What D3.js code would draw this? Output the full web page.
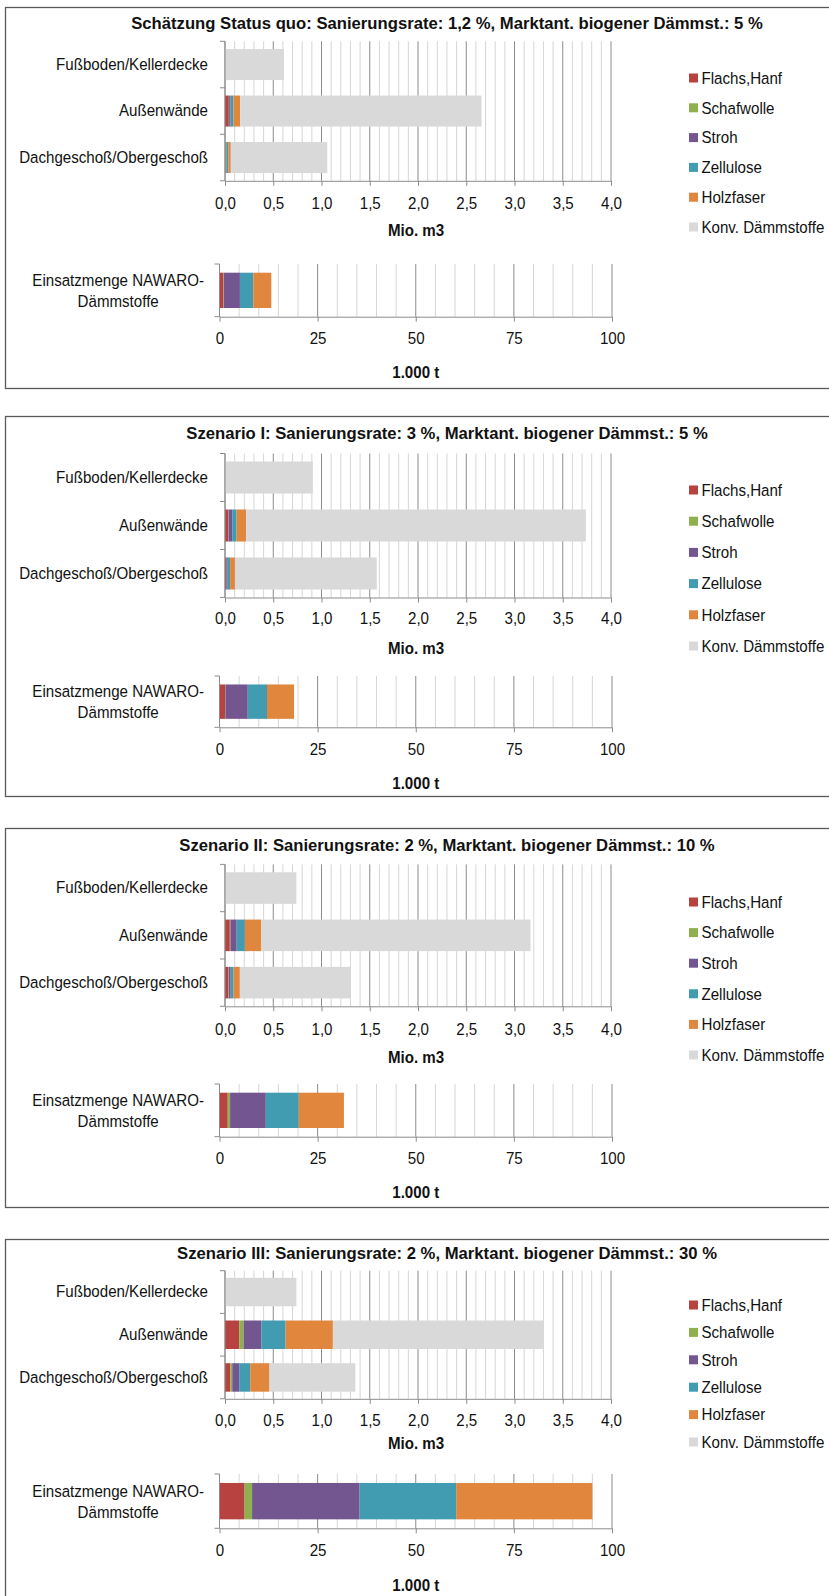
<!DOCTYPE html>
<html>
<head>
<meta charset="utf-8">
<script src="https://cdn.jsdelivr.net/npm/d3@7"></script>
<style>
  html, body { margin: 0; padding: 0; background: #fff; }
  svg { display: block; }
</style>
</head>
<body>
<svg id="chart" width="829" height="1596"></svg>
<script>
// ---------------- DATA ----------------
const titles = [
  "Schätzung Status quo: Sanierungsrate: 1,2 %, Marktant. biogener Dämmst.: 5 %",
  "Szenario I: Sanierungsrate: 3 %, Marktant. biogener Dämmst.: 5 %",
  "Szenario II: Sanierungsrate: 2 %, Marktant. biogener Dämmst.: 10 %",
  "Szenario III: Sanierungsrate: 2 %, Marktant. biogener Dämmst.: 30 %"
];
const categories = ["Fußboden/Kellerdecke", "Außenwände", "Dachgeschoß/Obergeschoß"];
const materials = ["Flachs,Hanf", "Schafwolle", "Stroh", "Zellulose", "Holzfaser", "Konv. Dämmstoffe"];
const colors = ["#b8423f", "#8fb04f", "#735590", "#419bb1", "#e0873d", "#d9d9d9"];

// Mio. m3, one row per scenario, values per category [Fußboden, Außenwände, Dachgeschoß]
const flachsHanf = [[0, 0.040, 0.005], [0, 0.034, 0.010], [0, 0.050, 0.035], [0, 0.148, 0.055]];
const schafwolle = [[0, 0.003, 0.010], [0, 0.003, 0.003], [0, 0.006, 0.004], [0, 0.045, 0.020]];
const stroh      = [[0, 0.015, 0.005], [0, 0.038, 0.015], [0, 0.065, 0.020], [0, 0.183, 0.072]];
const zellulose  = [[0, 0.030, 0.015], [0, 0.045, 0.025], [0, 0.085, 0.030], [0, 0.252, 0.114]];
const holzfaser  = [[0, 0.070, 0.025], [0, 0.100, 0.050], [0, 0.170, 0.065], [0, 0.490, 0.200]];
const konventionell = [[0.61, 2.50, 1.00], [0.91, 3.52, 1.47], [0.74, 2.79, 1.146], [0.74, 2.18, 0.89]];

// Einsatzmenge NAWARO-Dämmstoffe, 1.000 t, per scenario
const nawaroLabel = ["Einsatzmenge NAWARO-", "Dämmstoffe"];
const nawaroFlachs = [1.0, 1.4, 2.1, 6.4];
const nawaroSchaf  = [0.1, 0.1, 0.6, 1.9];
const nawaroStroh  = [4.1, 5.7, 9.1, 27.4];
const nawaroZell   = [3.4, 4.9, 8.4, 24.6];
const nawaroHolz   = [4.6, 6.9, 11.5, 34.7];

const ticksM3 = [0, 0.5, 1, 1.5, 2, 2.5, 3, 3.5, 4];
const ticksT = [0, 25, 50, 75, 100];
const unitM3 = "Mio. m3";
const unitT = "1.000 t";

// ---------------- LAYOUT ----------------
const FONT = '"Liberation Sans", Arial, sans-serif';
const FS = 16.3;      // regular text size
const TFS = 17;       // title size
const K = 0.927;      // horizontal condensing of the chart's narrow font
const panels = [
  {top: 7,    bottom: 388,  titleY: 23,   plotTop: 41.3,   plotBottom: 180.8,  tickY: 203,  unitY: 230,  lowTop: 264,  lowBottom: 316.7,  lowTickY: 338,  lowUnitY: 372,  legTop: 78,   legBottom: 227},
  {top: 416,  bottom: 796,  titleY: 433,  plotTop: 453.5,  plotBottom: 597.5,  tickY: 618,  unitY: 648,  lowTop: 676,  lowBottom: 727.3,  lowTickY: 749,  lowUnitY: 783,  legTop: 490,  legBottom: 646},
  {top: 828,  bottom: 1207, titleY: 845,  plotTop: 864.4,  plotBottom: 1006.3, tickY: 1029, unitY: 1057, lowTop: 1084, lowBottom: 1136.7, lowTickY: 1158, lowUnitY: 1192, legTop: 902,  legBottom: 1055},
  {top: 1239, bottom: 1620, titleY: 1253, plotTop: 1270.7, plotBottom: 1398.8, tickY: 1420, unitY: 1443, lowTop: 1474, lowBottom: 1528.3, lowTickY: 1550, lowUnitY: 1585, legTop: 1305, legBottom: 1442}
];

const svg = d3.select("#chart");
const x = d3.scaleLinear().domain([0, 4]).range([225, 611]);
const xl = d3.scaleLinear().domain([0, 100]).range([219.5, 612]);
const color = d3.scaleOrdinal().domain(materials).range(colors);
const fmtM3 = d => d3.format(".1f")(d).replace(".", ",");

const matArrays = [flachsHanf, schafwolle, stroh, zellulose, holzfaser, konventionell];
const nawaroArrays = [nawaroFlachs, nawaroSchaf, nawaroStroh, nawaroZell, nawaroHolz];

function addText(parent, tx, ty, str, opt = {}) {
  return parent.append("text")
    .attr("transform", `translate(${tx},${ty}) scale(${opt.k || K},1)`)
    .attr("dy", "0.35em")
    .attr("text-anchor", opt.anchor || "start")
    .attr("font-family", FONT)
    .attr("font-weight", opt.bold ? "bold" : "normal")
    .attr("font-size", opt.size || FS)
    .attr("fill", "#111")
    .text(str);
}

// title condensing calibrated on the first title's width in the reference
const probe = svg.append("text").attr("font-family", FONT).attr("font-weight", "bold")
  .attr("font-size", TFS).text(titles[0]);
const KT = Math.min(1, 632 / probe.node().getComputedTextLength());
probe.remove();

panels.forEach((p, si) => {
  const g = svg.append("g");
  g.append("rect").attr("x", 5.5).attr("y", p.top + 0.5)
    .attr("width", 840).attr("height", p.bottom - p.top)
    .attr("fill", "none").attr("stroke", "#5a5a5a").attr("stroke-width", 1.3);
  addText(g, 447, p.titleY, titles[si], {anchor: "middle", bold: true, size: TFS, k: KT});

  // ---- top chart ----
  const y = d3.scaleBand().domain(categories).range([p.plotTop, p.plotBottom])
    .paddingInner(0.333).paddingOuter(0.1667);
  const grid = d3.range(0, 41).map(i => i / 10);
  g.append("g").selectAll("line").data(grid).join("line")
    .attr("x1", d => x(d)).attr("x2", d => x(d))
    .attr("y1", p.plotTop).attr("y2", p.plotBottom)
    .attr("stroke", (d, i) => i % 5 === 0 ? "#8c8c8c" : "#d6d6d6")
    .attr("stroke-width", 1);
  const rows = categories.map((c, ci) => {
    const r = {cat: c};
    materials.forEach((m, mi) => r[m] = matArrays[mi][si][ci]);
    return r;
  });
  const stacked = d3.stack().keys(materials)(rows);
  g.append("g").selectAll("g").data(stacked).join("g")
    .attr("fill", d => color(d.key))
    .selectAll("rect").data(d => d).join("rect")
    .attr("x", d => x(d[0])).attr("width", d => Math.max(0, x(d[1]) - x(d[0])))
    .attr("y", d => y(d.data.cat)).attr("height", y.bandwidth());
  g.append("line").attr("x1", x(0)).attr("x2", x(0)).attr("y1", p.plotTop).attr("y2", p.plotBottom)
    .attr("stroke", "#8c8c8c");
  g.append("g").selectAll("line").data(d3.range(0, 4)).join("line")
    .attr("x1", x(0) - 5).attr("x2", x(0))
    .attr("y1", i => p.plotTop + i * y.step()).attr("y2", i => p.plotTop + i * y.step())
    .attr("stroke", "#8c8c8c");
  const ya = g.append("g").attr("transform", `translate(${x(0)},0)`)
    .call(d3.axisLeft(y).tickSize(0).tickPadding(17));
  ya.select(".domain").remove();
  ya.selectAll("text").attr("x", -17 / K).attr("transform", `scale(${K},1)`)
    .attr("font-family", FONT).attr("font-size", FS).attr("fill", "#111");
  const xa = g.append("g").attr("transform", `translate(0,${p.plotBottom})`)
    .call(d3.axisBottom(x).tickValues(ticksM3).tickFormat(fmtM3).tickSize(5).tickSizeOuter(0));
  xa.select(".domain").attr("stroke", "#8c8c8c");
  xa.selectAll("line").attr("stroke", "#8c8c8c");
  xa.selectAll("text").attr("y", p.tickY - p.plotBottom).attr("dy", "0.35em")
    .attr("transform", `scale(${K},1)`)
    .attr("font-family", FONT).attr("font-size", FS).attr("fill", "#111");
  addText(g, (x(0) + x(4)) / 2 - 2, p.unitY, unitM3, {anchor: "middle", bold: true});

  // legend
  const ls = (p.legBottom - p.legTop) / (materials.length - 1);
  const leg = g.append("g").selectAll("g").data(materials).join("g")
    .attr("transform", (d, i) => `translate(689,${p.legTop + i * ls})`);
  leg.append("rect").attr("x", 0).attr("y", -4.5).attr("width", 9).attr("height", 9)
    .attr("fill", d => color(d));
  leg.each(function(d) { addText(d3.select(this), 12.5, 0, d); });

  // ---- lower chart ----
  const yl = d3.scaleBand().domain(["nawaro"]).range([p.lowTop, p.lowBottom])
    .paddingInner(0.33).paddingOuter(0.165);
  const gridT = d3.range(0, 21).map(i => i * 5);
  g.append("g").selectAll("line").data(gridT).join("line")
    .attr("x1", d => xl(d)).attr("x2", d => xl(d))
    .attr("y1", p.lowTop).attr("y2", p.lowBottom)
    .attr("stroke", (d, i) => i % 5 === 0 ? "#8c8c8c" : "#d6d6d6");
  const lrow = {cat: "nawaro"};
  materials.slice(0, 5).forEach((m, mi) => lrow[m] = nawaroArrays[mi][si]);
  const lst = d3.stack().keys(materials.slice(0, 5))([lrow]);
  g.append("g").selectAll("g").data(lst).join("g")
    .attr("fill", d => color(d.key))
    .selectAll("rect").data(d => d).join("rect")
    .attr("x", d => xl(d[0])).attr("width", d => Math.max(0, xl(d[1]) - xl(d[0])))
    .attr("y", yl("nawaro")).attr("height", yl.bandwidth());
  g.append("line").attr("x1", xl(0)).attr("x2", xl(0)).attr("y1", p.lowTop).attr("y2", p.lowBottom)
    .attr("stroke", "#8c8c8c");
  g.append("g").selectAll("line").data([p.lowTop, p.lowBottom]).join("line")
    .attr("x1", xl(0) - 5).attr("x2", xl(0)).attr("y1", d => d).attr("y2", d => d)
    .attr("stroke", "#8c8c8c");
  const xla = g.append("g").attr("transform", `translate(0,${p.lowBottom})`)
    .call(d3.axisBottom(xl).tickValues(ticksT).tickSize(5).tickSizeOuter(0));
  xla.select(".domain").attr("stroke", "#8c8c8c");
  xla.selectAll("line").attr("stroke", "#8c8c8c");
  xla.selectAll("text").attr("y", p.lowTickY - p.lowBottom).attr("dy", "0.35em")
    .attr("transform", `scale(${K},1)`)
    .attr("font-family", FONT).attr("font-size", FS).attr("fill", "#111");
  addText(g, (xl(0) + xl(100)) / 2, p.lowUnitY, unitT, {anchor: "middle", bold: true});

  const cy = yl("nawaro") + yl.bandwidth() / 2;
  const lab = g.append("text").attr("font-family", FONT).attr("font-size", FS)
    .attr("fill", "#111").attr("text-anchor", "middle");
  const t1 = lab.append("tspan").attr("x", 0).attr("y", -10).attr("dy", "0.35em").text(nawaroLabel[0]);
  lab.append("tspan").attr("x", 0).attr("y", 11).attr("dy", "0.35em").text(nawaroLabel[1]);
  const w1 = t1.node().getComputedTextLength() * K;
  lab.attr("transform", `translate(${204 - w1 / 2},${cy}) scale(${K},1)`);
});
</script>
</body>
</html>
